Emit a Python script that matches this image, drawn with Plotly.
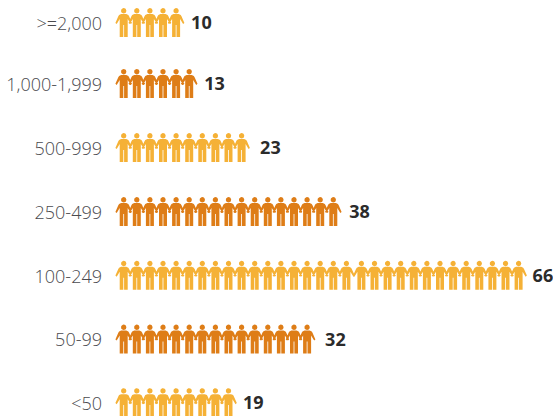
import math
import plotly.graph_objects as go

categories = [">=2,000", "1,000-1,999", "500-999", "250-499", "100-249", "50-99", "<50"]
values = [10, 13, 23, 38, 66, 32, 19]
icon_counts = [5, 6, 10, 17, 31, 15, 9]
colors = ["#F5B136", "#DE7D17", "#F5B136", "#DE7D17", "#F5B136", "#DE7D17", "#F5B136"]

# layout constants (pixels)
row_centers = [22.5, 83.4, 147.5, 211.5, 275.2, 339.0, 402.6]
label_nudge = [0, 0, 3.5, 1, -1, 3, -0.5]
W, H = 553, 416
LEFT = 103
PITCH = 13.1
FIRST = 123.7

BODY = [(-2.6, -8.4), (2.6, -8.4), (4.6, -7.5), (5.4, -6.2), (8.3, 0.4), (7.0, 1.6),
        (4.0, -3.4), (4.0, 14.5), (0.4, 14.5), (0.4, 2.5), (-0.4, 2.5), (-0.4, 14.5),
        (-4.0, 14.5), (-4.0, -3.4), (-7.0, 1.6), (-8.3, 0.4), (-5.4, -6.2), (-4.6, -7.5),
        (-2.6, -8.4)]
HEAD = [(2.7 * math.cos(t * math.pi / 10), -11.7 + 2.7 * math.sin(t * math.pi / 10)) for t in range(21)]

fig = go.Figure()
for r, (n, col, yc) in enumerate(zip(icon_counts, colors, row_centers)):
    xs, ys = [], []
    for i in range(n):
        shift = 1.9 if (categories[r] == "100-249" and i >= 18) else 0
        for part in (BODY, HEAD):
            for dx, dy in part:
                xs.append(i + (dx + shift) / PITCH)
                ys.append(yc + dy)
            xs.append(None)
            ys.append(None)
    fig.add_trace(go.Scatter(x=xs, y=ys, mode="lines", fill="toself", fillcolor=col,
                             line=dict(width=0, color=col), hoverinfo="skip", showlegend=False))

label_x = [n - 1 + (15.0 + nudge + (1.9 if c == "100-249" else 0)) / PITCH
           for n, c, nudge in zip(icon_counts, categories, label_nudge)]
fig.add_trace(go.Scatter(x=label_x, y=[y + 2 for y in row_centers], mode="text",
                         text=[str(v) for v in values], textposition="middle right",
                         textfont=dict(family="Open Sans", size=18, color="#2B2B2B", weight=700),
                         cliponaxis=False, hoverinfo="skip", showlegend=False))

fig.update_layout(
    width=W, height=H, margin=dict(l=LEFT, r=0, t=0, b=0),
    paper_bgcolor="white", plot_bgcolor="white", showlegend=False,
    xaxis=dict(range=[(LEFT - FIRST) / PITCH, (W - FIRST) / PITCH], visible=False, fixedrange=True),
    yaxis=dict(range=[H, 0], tickmode="array",
               tickvals=[y + 1 for y in row_centers], ticktext=categories,
               showgrid=False, zeroline=False, showline=False, ticks="", fixedrange=True,
               tickfont=dict(family="Open Sans", size=18, color="#4A4A4E", weight=300)),
)
fig.write_html("out.html", config={"displayModeBar": False},
               post_script="document.body.style.margin='0';")
